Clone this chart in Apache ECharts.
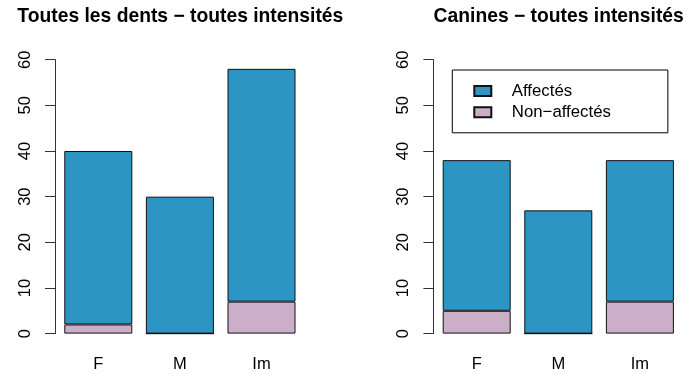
<!DOCTYPE html>
<html>
<head>
<meta charset="utf-8">
<script src="https://cdn.jsdelivr.net/npm/echarts@6/dist/echarts.min.js"></script>
<style>
  html, body { margin: 0; padding: 0; background: #fff; }
  #chart { width: 688px; height: 374px; }
</style>
</head>
<body>
<div id="chart"></div>
<script>
// ---- data ----
const categories = ['F', 'M', 'Im'];
const titles = ['Toutes les dents \u2212 toutes intensit\u00e9s', 'Canines \u2212 toutes intensit\u00e9s'];
const seriesNames = ['Affect\u00e9s', 'Non\u2212affect\u00e9s'];
// panel 1: all teeth
const allAffected = [38, 30, 51];
const allUnaffected = [2, 0, 7];
// panel 2: canines
const canAffected = [33, 27, 31];
const canUnaffected = [5, 0, 7];
const yTicks = [0, 10, 20, 30, 40, 50, 60];

// ---- styling ----
const BLUE = '#2C95C3';
const PINK = '#CBAFC9';
const FONT = '"Liberation Sans", Arial, Helvetica, sans-serif';
const AXIS_COL = '#333';

const chart = echarts.init(document.getElementById('chart'), null, { renderer: 'canvas' });

function yAxis(idx) {
  return {
    type: 'value', gridIndex: idx, min: yTicks[0], max: yTicks[yTicks.length - 1], interval: 10,
    offset: 2.5,
    axisLine: { show: true, lineStyle: { color: AXIS_COL, width: 1 } },
    axisTick: { show: true, length: 10, lineStyle: { color: AXIS_COL, width: 1 } },
    axisLabel: { rotate: 90, margin: 21, color: '#000', fontSize: 16.5, fontFamily: FONT },
    splitLine: { show: false }
  };
}
function xAxis(idx) {
  return {
    type: 'category', gridIndex: idx, data: categories,
    axisLine: { show: false }, axisTick: { show: false },
    axisLabel: { margin: 22, color: '#000', fontSize: 16.5, fontFamily: FONT }
  };
}
function bar(name, data, idx) {
  return {
    name: name, type: 'bar', stack: 's' + idx, xAxisIndex: idx, yAxisIndex: idx,
    data: data, barWidth: 68,
    itemStyle: { color: name === seriesNames[0] ? BLUE : PINK, borderColor: '#111', borderWidth: 1 },
    emphasis: { disabled: true },
    animation: false
  };
}

const option = {
  backgroundColor: '#fff',
  animation: false,
  title: [
    { text: titles[0], left: 180.3, top: 7.5, textAlign: 'center', padding: 0,
      textStyle: { fontSize: 19.3, fontWeight: 'bold', color: '#000', fontFamily: FONT } },
    { text: titles[1], left: 558.7, top: 7.5, textAlign: 'center', padding: 0,
      textStyle: { fontSize: 19.3, fontWeight: 'bold', color: '#000', fontFamily: FONT } }
  ],
  legend: {
    data: seriesNames,
    orient: 'vertical',
    left: 452.3, top: 70,
    icon: 'rect',
    itemWidth: 17, itemHeight: 10, itemGap: 4.3,
    padding: [12.5, 57, 12, 21],
    borderColor: '#000', borderWidth: 1,
    selectedMode: false,
    textStyle: { fontSize: 16.8, color: '#000', fontFamily: FONT, padding: [0, 0, 0, 15.5] }
  },
  grid: [
    { left: 57.5, top: 59.7, width: 244.8, height: 273.9 },
    { left: 435.9, top: 59.7, width: 244.8, height: 273.9 }
  ],
  xAxis: [xAxis(0), xAxis(1)],
  yAxis: [yAxis(0), yAxis(1)],
  series: [
    bar(seriesNames[1], allUnaffected, 0),
    bar(seriesNames[0], allAffected, 0),
    bar(seriesNames[1], canUnaffected, 1),
    bar(seriesNames[0], canAffected, 1)
  ]
};
chart.setOption(option);
</script>
</body>
</html>
